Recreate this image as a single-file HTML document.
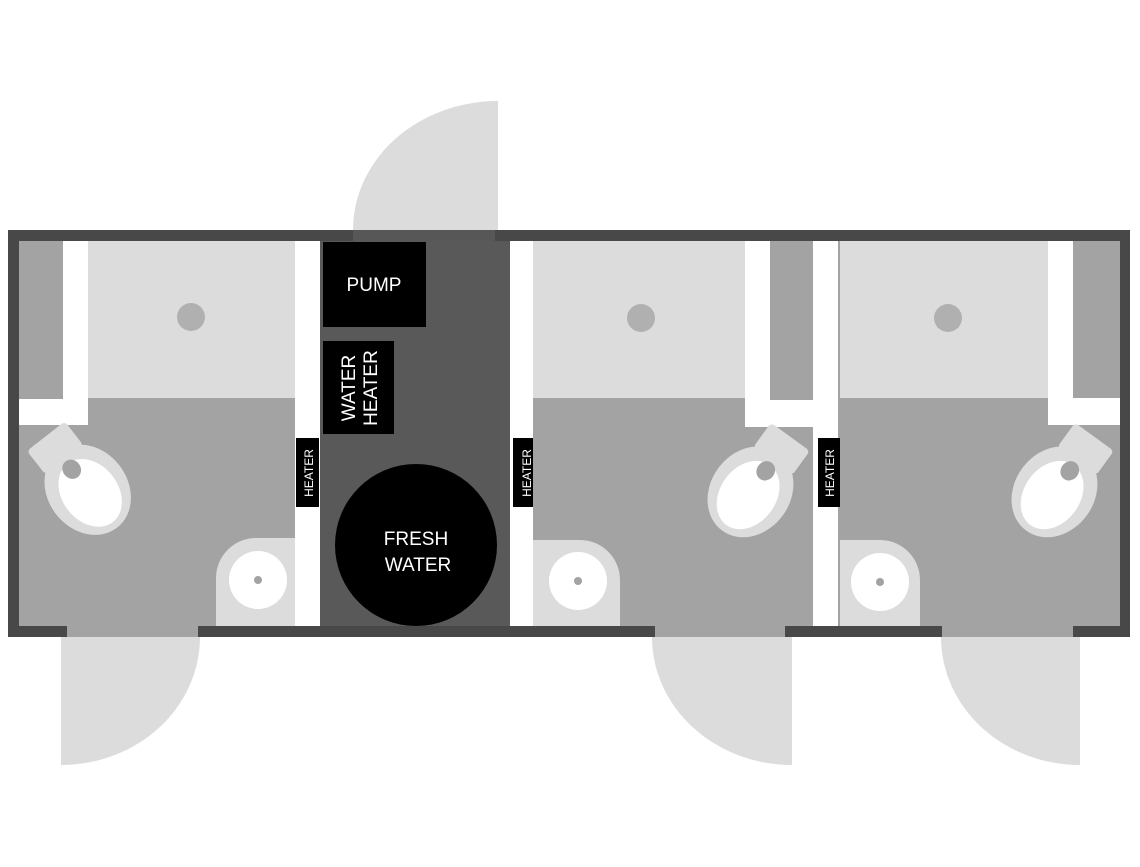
<!DOCTYPE html>
<html><head><meta charset="utf-8"><style>
html,body{margin:0;padding:0;background:#fff}
svg{display:block}
text{font-family:"Liberation Sans",sans-serif;fill:#fff}
</style></head><body>
<svg width="1140" height="867" viewBox="0 0 1140 867" xmlns="http://www.w3.org/2000/svg">
<defs>
<g id="toilet">
  <rect x="-24" y="-62" width="48" height="30" rx="4" fill="#dcdcdc"/>
  <ellipse cx="0" cy="6" rx="40" ry="48" fill="#dcdcdc"/>
  <ellipse cx="0" cy="10" rx="28" ry="37" fill="#fff"/>
  <ellipse cx="0" cy="-20" rx="9" ry="10" fill="#a3a3a3"/>
</g>
</defs>
<!-- doors -->
<path d="M498,230 L498,101 A145,129 0 0 0 353,230 Z" fill="#dcdcdc"/>
<path d="M61,637 L61,765 A139,128 0 0 0 200,637 Z" fill="#dcdcdc"/>
<path d="M792,637 L792,765 A140,128 0 0 1 652,637 Z" fill="#dcdcdc"/>
<path d="M1080,637 L1080,765 A139,128 0 0 1 941,637 Z" fill="#dcdcdc"/>

<!-- outer walls -->
<rect x="8" y="230" width="1122" height="11" fill="#484848"/>
<rect x="353" y="230" width="142" height="11" fill="#575757"/>
<rect x="8" y="230" width="11" height="407" fill="#484848"/>
<rect x="1120" y="230" width="10" height="407" fill="#484848"/>

<!-- room 1 -->
<rect x="19" y="241" width="276" height="396" fill="#a3a3a3"/>
<rect x="88" y="241" width="207" height="157" fill="#dcdcdc"/>
<rect x="63" y="241" width="25" height="184" fill="#fff"/>
<rect x="19" y="399" width="69" height="26" fill="#fff"/>
<circle cx="191" cy="317" r="14" fill="#b0b0b0"/>
<g transform="translate(84,485) rotate(-38)"><use href="#toilet"/></g>
<path d="M216,626 L216,578 A40,40 0 0 1 256,538 L295,538 L295,626 Z" fill="#dcdcdc"/>
<circle cx="258" cy="580" r="29" fill="#fff"/>
<circle cx="258" cy="580" r="4" fill="#a3a3a3"/>
<rect x="295" y="241" width="25" height="385" fill="#fff"/>
<rect x="296" y="438" width="23" height="69" fill="#000"/>
<text transform="translate(313,473) rotate(-90)" font-size="12" text-anchor="middle">HEATER</text>

<!-- mech room -->
<rect x="320" y="241" width="190" height="385" fill="#595959"/>
<rect x="323" y="242" width="103" height="85" fill="#000"/>
<text x="374" y="291" font-size="19" text-anchor="middle">PUMP</text>
<rect x="323" y="341" width="71" height="93" fill="#000"/>
<text transform="translate(355,388) rotate(-90)" font-size="19" text-anchor="middle">WATER</text>
<text transform="translate(377,388) rotate(-90)" font-size="19" text-anchor="middle">HEATER</text>
<circle cx="416" cy="545" r="81" fill="#000"/>
<text x="416" y="545" font-size="19" text-anchor="middle">FRESH</text>
<text x="418" y="571" font-size="19" text-anchor="middle">WATER</text>
<rect x="510" y="241" width="23" height="385" fill="#fff"/>
<rect x="513" y="438" width="24" height="69" fill="#000"/>
<text transform="translate(531,473) rotate(-90)" font-size="12" text-anchor="middle">HEATER</text>

<!-- room 2 -->
<rect x="533" y="241" width="280" height="396" fill="#a3a3a3"/>
<rect x="533" y="241" width="212" height="157" fill="#dcdcdc"/>
<rect x="745" y="241" width="25" height="186" fill="#fff"/>
<rect x="745" y="400" width="68" height="27" fill="#fff"/>
<circle cx="641" cy="318" r="14" fill="#b0b0b0"/>
<g transform="translate(754,487) rotate(36)"><use href="#toilet"/></g>
<path d="M533,540 L580,540 A40,40 0 0 1 620,580 L620,626 L533,626 Z" fill="#dcdcdc"/>
<circle cx="578" cy="581" r="29" fill="#fff"/>
<circle cx="578" cy="581" r="4" fill="#a3a3a3"/>
<rect x="813" y="241" width="25" height="385" fill="#fff"/>
<rect x="818" y="438" width="22" height="69" fill="#000"/>
<text transform="translate(834,473) rotate(-90)" font-size="12" text-anchor="middle">HEATER</text>

<!-- room 3 -->
<rect x="838" y="241" width="282" height="396" fill="#a3a3a3"/>
<rect x="840" y="241" width="208" height="157" fill="#dcdcdc"/>
<rect x="1048" y="241" width="25" height="184" fill="#fff"/>
<rect x="1048" y="398" width="72" height="27" fill="#fff"/>
<circle cx="948" cy="318" r="14" fill="#b0b0b0"/>
<g transform="translate(1058,487) rotate(36)"><use href="#toilet"/></g>
<path d="M840,540 L880,540 A40,40 0 0 1 920,580 L920,626 L840,626 Z" fill="#dcdcdc"/>
<circle cx="880" cy="582" r="29" fill="#fff"/>
<circle cx="880" cy="582" r="4" fill="#a3a3a3"/>
<rect x="813" y="241" width="25" height="385" fill="#fff"/>
<rect x="818" y="438" width="22" height="69" fill="#000"/>
<text transform="translate(834,473) rotate(-90)" font-size="12" text-anchor="middle">HEATER</text>

<!-- bottom walls -->
<rect x="8" y="626" width="59" height="11" fill="#484848"/>
<rect x="198" y="626" width="457" height="11" fill="#484848"/>
<rect x="785" y="626" width="157" height="11" fill="#484848"/>
<rect x="1073" y="626" width="57" height="11" fill="#484848"/>
</svg>
</body></html>
